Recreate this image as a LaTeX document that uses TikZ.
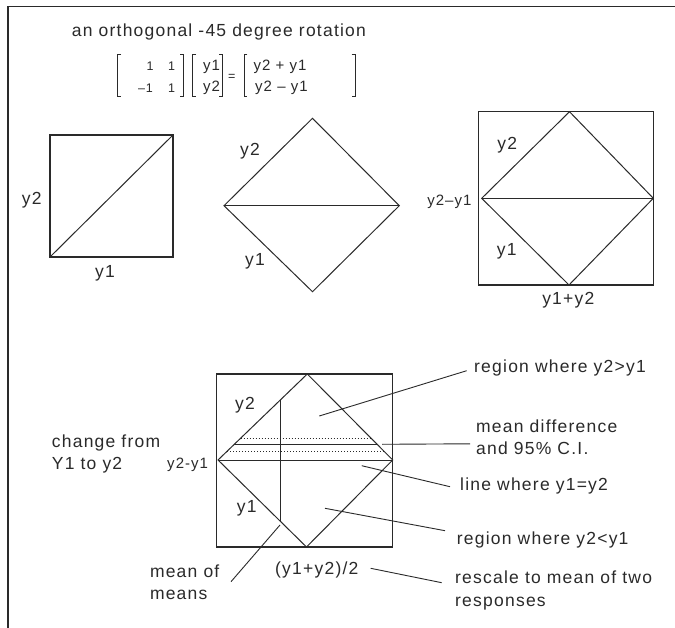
\documentclass[tikz,border=0pt]{standalone}
\usepackage{fontspec}
\newfontfamily\lab[LetterSpace=7]{Liberation Sans}
\usetikzlibrary{calc}
\definecolor{ink}{HTML}{2A2A2A}
\tikzset{
  txt/.style={font=\lab\fontsize{17.5}{22.3}\selectfont, inner sep=0pt, text=ink, align=left},
  smalltxt/.style={font=\lab\fontsize{15}{18}\selectfont, inner sep=0pt, text=ink},
  tinytxt/.style={font=\lab\fontsize{12.5}{15}\selectfont, inner sep=0pt, text=ink},
  box/.style={draw=ink, line width=1.4pt},
  edge/.style={draw=ink, line width=1pt},
  leader/.style={draw=ink, line width=0.9pt},
  dotline/.style={draw=ink, line width=0.9pt, dash pattern=on 1pt off 2pt},
  brk/.style={draw=ink, line width=1pt}
}
\begin{document}
\begin{tikzpicture}[x=1pt,y=-1pt]
\useasboundingbox[fill=white] (0,0) rectangle (675,628);
% frame
\draw[ink, line width=1.6pt] (8,628) -- (8,6.5) -- (675,6.5);

% title
\node[txt, anchor=west] (title) at (71.7,32) {an orthogonal -45 degree rotation};

% matrix equation
\draw[brk] (121,55) -- (117.7,55) -- (117.7,97) -- (121,97);
\draw[brk] (180,55) -- (183.3,55) -- (183.3,97) -- (180,97);
\node[tinytxt] (m11) at (150,66.7) {1};
\node[tinytxt] (m12) at (171.7,66.7) {1};
\node[tinytxt, anchor=east] (m21) at (153,88.3) {–1};
\node[tinytxt] (m22) at (171.7,88.3) {1};
\draw[brk] (196,55) -- (192.7,55) -- (192.7,97) -- (196,97);
\draw[brk] (219,55) -- (222.3,55) -- (222.3,97) -- (219,97);
\node[smalltxt] (v1) at (211.5,66.7) {y1};
\node[smalltxt] (v2) at (211.5,88.3) {y2};
\node[tinytxt] (eq) at (231.7,77.5) {=};
\draw[brk] (247.3,55) -- (244,55) -- (244,97) -- (247.3,97);
\draw[brk] (351.7,55) -- (355,55) -- (355,97) -- (351.7,97);
\node[smalltxt, anchor=west] (r1) at (253.3,66.7) {y2 + y1};
\node[smalltxt, anchor=west] (r2) at (255,88.3) {y2 – y1};

% figure 1: square with diagonal
\draw[box] (50,135) rectangle (173,257);
\draw[edge] (50,257) -- (173,135);
\node[txt] (a2) at (31.7,200) {y2};
\node[txt] (a1) at (105,273.3) {y1};

% figure 2: diamond
\draw[edge] (224,205.7) -- (312.5,118.3) -- (399.3,205.7) -- (312.5,291.7) -- cycle;
\draw[edge] (224,205.7) -- (399.3,205.7);
\node[txt] (b2) at (250,151.7) {y2};
\node[txt] (b1) at (255,261.7) {y1};

% figure 3: diamond in square
\draw[box] (478.3,111.7) rectangle (653.3,285);
\draw[edge] (481.7,198.3) -- (569.5,111.7) -- (653.3,198.3) -- (569,285) -- cycle;
\draw[edge] (481.7,198.3) -- (653.3,198.3);
\node[txt] (c2) at (507.3,145) {y2};
\node[smalltxt, anchor=east] (cd) at (471.7,201.7) {y2–y1};
\node[txt] (c1) at (506.7,251.7) {y1};
\node[txt] (cs) at (568.3,300) {y1+y2};

% figure 4: annotated
\draw[box] (216.7,374) rectangle (392.7,547);
\draw[edge] (218,460) -- (307.3,374) -- (392.7,460) -- (306.5,547) -- cycle;
\draw[edge] (218,460) -- (392.7,460);
\draw[edge] (280,400) -- (280,521.7);
\draw[edge] (234.2,444.3) -- (377.1,444.3);
\draw[dotline] (240.5,438.3) -- (371,438.3);
\draw[dotline] (227.3,451) -- (383.8,451);
\node[txt] (d2) at (245,405) {y2};
\node[txt] (d1) at (246.7,508) {y1};
\node[smalltxt, anchor=east] (dd) at (208.3,465) {y2-y1};
\node[txt, anchor=west] (chg) at (51.7,453.9) {change from\\Y1 to y2};

% annotation labels
\node[txt, anchor=west] (lab1) at (474,368.3) {region where y2>y1};
\node[txt, anchor=west] (lab2) at (476,437.2) {mean difference\\and 95\% C.I.};
\node[txt, anchor=west] (lab3) at (460,486) {line where y1=y2};
\node[txt, anchor=west] (lab4) at (456.7,540) {region where y2<y1};
\node[txt, anchor=west] (lab5) at (455,590.5) {rescale to mean of two\\responses};
\node[txt, anchor=west] (lab6) at (275,570) {(y1+y2)/2};
\node[txt, anchor=west] (lab7) at (149.8,582.5) {mean of\\means};

% leader end points
\coordinate (p1) at (319.3,416);
\coordinate (q1) at (466.7,370.7);
\coordinate (p2) at (382,444.3);
\coordinate (q2) at (470,443.8);
\coordinate (p3) at (361.7,465.7);
\coordinate (q3) at (450,486.7);
\coordinate (p4) at (325,508.3);
\coordinate (q4) at (445,530.7);
\coordinate (p5) at (370.7,568.3);
\coordinate (q5) at (441.7,582.7);
\coordinate (p7) at (280,525);
\coordinate (q7) at (231,581.7);
\draw[leader] (p1) -- (q1);
\draw[leader] (p2) -- (q2);
\draw[leader] (p3) -- (q3);
\draw[leader] (p4) -- (q4);
\draw[leader] (p5) -- (q5);
\draw[leader] (p7) -- (q7);
\end{tikzpicture}
\end{document}
